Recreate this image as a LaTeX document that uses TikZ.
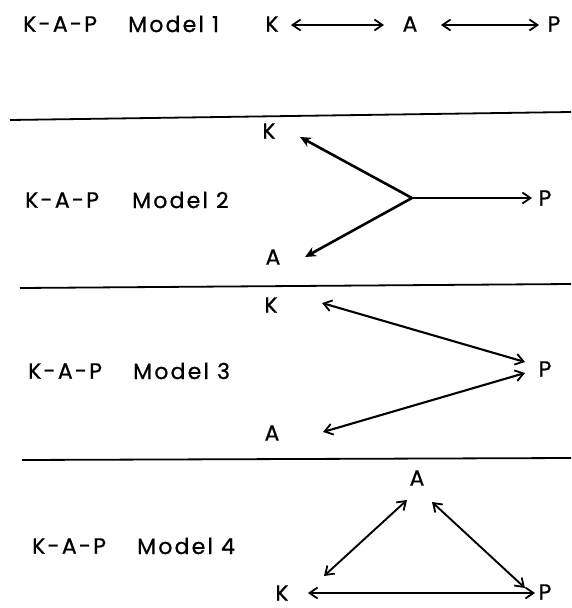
\documentclass[tikz,border=0pt]{standalone}
\usepackage{fontspec}
\setmainfont{Poppins}
\newfontfamily\kapfont{Poppins}[FakeBold=0.8]
\usetikzlibrary{arrows.meta}
\begin{document}
\begin{tikzpicture}[x=1pt,y=-1pt,
  lbl/.style={font=\fontsize{22}{26}\kapfont\addfontfeatures{LetterSpace=10}, anchor=west, inner sep=0pt},
  ltr/.style={font=\fontsize{22}{26}\kapfont, inner sep=0pt},
  rule/.style={line width=1.8pt},
  barb/.tip={Straight Barb[length=8pt,width=11pt,line width=1.8pt]},
  link/.style={line width=1.9pt, barb-barb},
  oneway/.style={line width=1.9pt, -barb},
  heavy/.style={line width=2.6pt, -{Stealth[length=11pt,width=10pt]}}
]
\useasboundingbox (0,0) rectangle (571,608);

% ---- Model 1 ----
\node[lbl] (m1a) at (23,24) {K-A-P};
\node[lbl] (m1b) at (128,24) {Model 1};
\node[ltr] (K1) at (272,24) {K};
\node[ltr] (A1) at (410,24) {A};
\node[ltr] (P1) at (554,24) {P};
\draw[link] ([shift={(19,1)}]K1.center) -- ([shift={(-26,1)}]A1.center);
\draw[link] ([shift={(31,1)}]A1.center) -- ([shift={(-15,1)}]P1.center);

% separator
\coordinate (s1l) at (10,120); \coordinate (s1r) at (571,112);
\draw[rule] (s1l) -- (s1r);

% ---- Model 2 ----
\node[lbl] (m2a) at (25,200) {K-A-P};
\node[lbl] (m2b) at (132,200) {Model 2};
\node[ltr] (K2) at (269,131) {K};
\node[ltr] (A2) at (273,257) {A};
\node[ltr] (P2) at (545,198) {P};
\coordinate (J) at (412,198);
\draw[heavy] (J) -- ([shift={(31,6)}]K2.center);
\draw[heavy] (J) -- ([shift={(32,0)}]A2.center);
\draw[oneway] (J) -- ([shift={(-13,0)}]P2.center);

\coordinate (s2l) at (20,288); \coordinate (s2r) at (571,284);
\draw[rule] (s2l) -- (s2r);

% ---- Model 3 ----
\node[lbl] (m3a) at (28,371) {K-A-P};
\node[lbl] (m3b) at (133,371) {Model 3};
\node[ltr] (K3) at (271,305) {K};
\node[ltr] (P3) at (545,369) {P};
\node[ltr] (A3) at (272,433) {A};
\draw[link, line width=2.1pt] ([shift={(51,-2)}]K3.center) -- ([shift={(-20,-7)}]P3.center);
\draw[link, line width=2.1pt] ([shift={(51,-1)}]A3.center) -- ([shift={(-20,4)}]P3.center);

\coordinate (s3l) at (22,460); \coordinate (s3r) at (571,458);
\draw[rule] (s3l) -- (s3r);

% ---- Model 4 ----
\node[lbl] (m4a) at (32,546) {K-A-P};
\node[lbl] (m4b) at (137,546) {Model 4};
\node[ltr] (A4) at (417,478) {A};
\node[ltr] (K4) at (282,593) {K};
\node[ltr] (P4) at (545,592) {P};
\draw[link] ([shift={(42,-17)}]K4.center) -- ([shift={(-10,22)}]A4.center);
\draw[link] ([shift={(15,24)}]A4.center) -- ([shift={(-20,-4)}]P4.center);
\draw[link] ([shift={(26,0)}]K4.center) -- ([shift={(-10,1)}]P4.center);
\end{tikzpicture}
\end{document}
